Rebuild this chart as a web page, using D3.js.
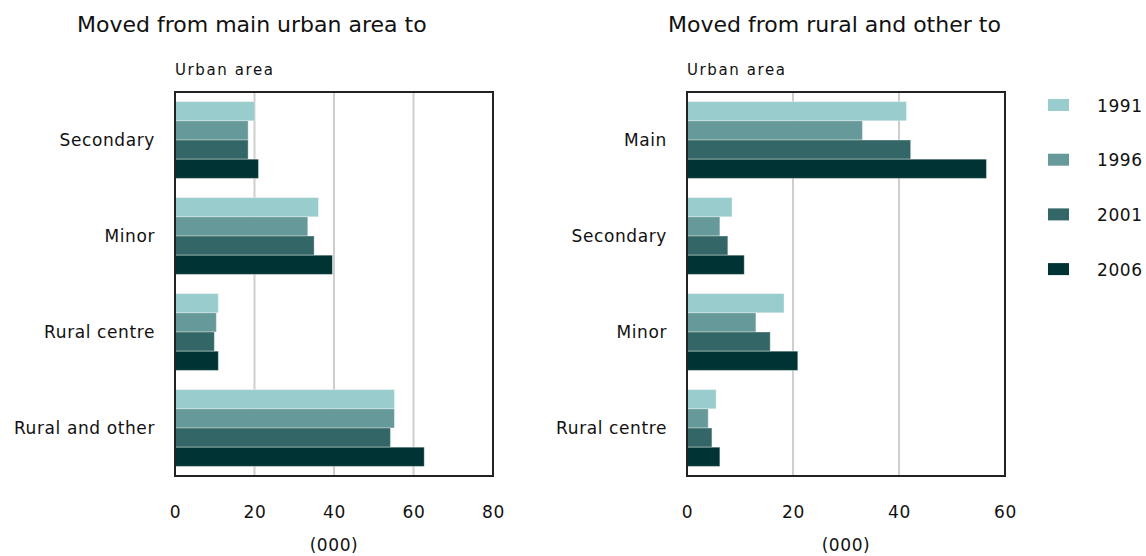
<!DOCTYPE html>
<meta charset="utf-8">
<style>
  body { margin: 0; background: #fff; }
  text { font-family: "DejaVu Sans", Verdana, sans-serif; fill: #111; }
  .title { font-size: 22px; }
  .sub { font-size: 15px; letter-spacing: 1.6px; }
  .cat { font-size: 17px; letter-spacing: 0.6px; }
  .grid line { stroke: #cfcfcf; stroke-width: 2px; }
  .frame { fill: none; stroke: #222; stroke-width: 2px; }
</style>
<body>
<div id="chart"></div>
<script src="https://cdn.jsdelivr.net/npm/d3@7"></script>
<script>

// series keys and colours
var years = ["1991", "1996", "2001", "2006"];
var colors = ["#99cccc", "#669999", "#336666", "#003333"];

// left panel: moved from main urban area to
var leftTitle = "Moved from main urban area to";
var leftCats = ["Secondary", "Minor", "Rural centre", "Rural and other"];
var left1991 = [20.1, 36.1, 10.9, 55.2];
var left1996 = [18.4, 33.4, 10.4, 55.2];
var left2001 = [18.4, 35.0, 9.9, 54.2];
var left2006 = [21.0, 39.6, 10.9, 62.7];
var leftTicks = [0, 20, 40, 60, 80];

// right panel: moved from rural and other to
var rightTitle = "Moved from rural and other to";
var rightCats = ["Main", "Secondary", "Minor", "Rural centre"];
var right1991 = [41.4, 8.5, 18.3, 5.5];
var right1996 = [33.1, 6.2, 13.0, 4.0];
var right2001 = [42.2, 7.7, 15.7, 4.7];
var right2006 = [56.5, 10.8, 20.9, 6.2];
var rightTicks = [0, 20, 40, 60];

var width = 1146,
    height = 556;

var svg = d3.select("#chart").append("svg")
    .attr("width", width)
    .attr("height", height);

// note: "top" is taken by window.top, so use other names
var plotTop = 92, plotBottom = 476;

function panel(x0, x1, titleX, title, cats, series, ticks) {
  var x = d3.scaleLinear()
      .domain([0, d3.max(ticks)])
      .range([x0, x1]);

  var y = d3.scaleBand()
      .domain(cats)
      .range([plotTop, plotBottom])
      .paddingInner(0.2)
      .paddingOuter(0.1);

  var y1 = d3.scaleBand()
      .domain(years)
      .range([0, y.bandwidth()]);

  var g = svg.append("g");

  // gridlines
  g.append("g")
      .attr("class", "grid")
    .selectAll("line")
    .data(ticks.slice(1, -1))
    .enter().append("line")
      .attr("x1", function(d) { return x(d); })
      .attr("x2", function(d) { return x(d); })
      .attr("y1", plotTop)
      .attr("y2", plotBottom);

  // bars, one group per category
  var groups = g.append("g")
    .selectAll("g")
    .data(cats)
    .enter().append("g")
      .attr("transform", function(d) { return "translate(0," + y(d) + ")"; });

  groups.selectAll("rect")
    .data(function(d, i) {
      return years.map(function(yr, j) { return { year: yr, value: series[j][i], k: j }; });
    })
    .enter().append("rect")
      .attr("x", x(0))
      .attr("y", function(d) { return y1(d.year); })
      .attr("width", function(d) { return x(d.value) - x(0); })
      .attr("height", y1.bandwidth())
      .attr("fill", function(d) { return colors[d.k]; })
      .attr("stroke", "rgba(255,255,255,0.35)")
      .attr("stroke-width", 1);

  // frame
  g.append("rect")
      .attr("class", "frame")
      .attr("x", x0)
      .attr("y", plotTop)
      .attr("width", x1 - x0)
      .attr("height", plotBottom - plotTop);

  // category labels
  g.selectAll(".catlabel")
    .data(cats)
    .enter().append("text")
      .attr("class", "cat catlabel")
      .attr("x", x0 - 20)
      .attr("y", function(d) { return y(d) + y.bandwidth() / 2; })
      .attr("dy", "0.33em")
      .attr("text-anchor", "end")
      .text(function(d) { return d; });

  // x axis labels
  var axis = g.append("g")
      .attr("transform", "translate(0," + (plotBottom + 42) + ")")
      .call(d3.axisBottom(x).tickValues(ticks).tickSize(0).tickPadding(0));
  axis.select(".domain").remove();
  axis.selectAll("text")
      .attr("dy", null)
      .attr("y", 0)
      .attr("fill", "#111")
      .style("font-family", "DejaVu Sans, Verdana, sans-serif")
      .style("font-size", "17px")
      .style("letter-spacing", "0.6px");

  g.append("text")
      .attr("class", "cat")
      .attr("x", (x0 + x1) / 2)
      .attr("y", 551)
      .attr("text-anchor", "middle")
      .text("(000)");

  g.append("text")
      .attr("class", "sub")
      .attr("x", x0)
      .attr("y", 75)
      .text("Urban area");

  g.append("text")
      .attr("class", "title")
      .attr("x", titleX)
      .attr("y", 32)
      .text(title);
}

panel(175, 493, 77, leftTitle, leftCats, [left1991, left1996, left2001, left2006], leftTicks);
panel(687, 1005, 668, rightTitle, rightCats, [right1991, right1996, right2001, right2006], rightTicks);

// legend
var legend = svg.append("g")
  .selectAll("g")
  .data(years)
  .enter().append("g")
    .attr("transform", function(d, i) { return "translate(1048," + (105 + i * 54.7) + ")"; });

legend.append("rect")
    .attr("y", -6)
    .attr("width", 21)
    .attr("height", 12)
    .attr("fill", function(d, i) { return colors[i]; });

legend.append("text")
    .attr("class", "cat")
    .attr("x", 49)
    .attr("y", 6.5)
    .text(function(d) { return d; });

</script>
</body>
